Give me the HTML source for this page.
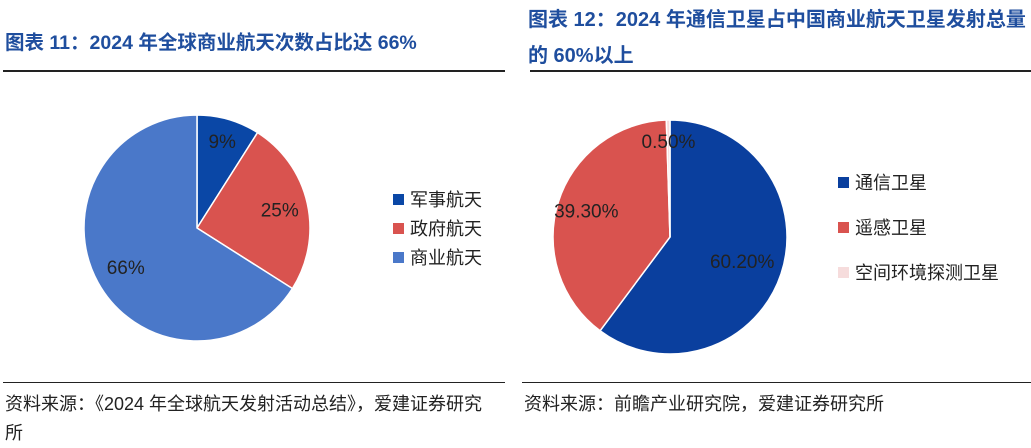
<!DOCTYPE html>
<html><head><meta charset="utf-8">
<style>
body{margin:0;width:1031px;height:442px;background:#fff;overflow:hidden;font-family:"Liberation Sans","Noto Sans CJK SC",sans-serif;position:relative}
.t{position:absolute;color:#1f4e9e;font-weight:bold;font-size:19.5px;white-space:nowrap}
.ln{position:absolute;height:2px;background:#222}
.fn{position:absolute;font-size:18px;color:#222;white-space:nowrap}
svg{position:absolute;left:0;top:0}
</style></head><body>
<div class="t" style="left:5px;top:26px">图表 11：2024 年全球商业航天次数占比达 66%</div>
<div class="t" style="left:528px;top:2px;line-height:36px;font-size:20px">图表 12：2024 年通信卫星占中国商业航天卫星发射总量<br>的 60%以上</div>
<div class="ln" style="left:3px;top:70px;width:502px"></div>
<div class="ln" style="left:530px;top:70px;width:501px"></div>
<div class="ln" style="left:3px;top:382px;width:502px;height:1px"></div>
<div class="ln" style="left:522px;top:382px;width:509px;height:1px"></div>
<div class="fn" style="left:5px;top:390px;line-height:29px">资料来源：《2024 年全球航天发射活动总结》，爱建证券研究<br>所</div>
<div class="fn" style="left:524px;top:390px;line-height:29px">资料来源：前瞻产业研究院，爱建证券研究所</div>
<svg id="s" width="1031" height="442" font-family="Liberation Sans, Noto Sans CJK SC, sans-serif"></svg>
<script>
const cats1=["军事航天","政府航天","商业航天"];
const vals1=[9,25,66];
const labs1=["9%","25%","66%"];
const cats2=["通信卫星","遥感卫星","空间环境探测卫星"];
const vals2=[60.2,39.3,0.5];
const labs2=["60.20%","39.30%","0.50%"];
const cols1=["#0a47a6","#d9534f","#4a78c9"];
const cols2=["#0a3f9e","#d9534f","#f6dcdc"];
const NS="http://www.w3.org/2000/svg";
const svg=document.getElementById('s');
function mk(t,a){const e=document.createElementNS(NS,t);for(const k in a)e.setAttribute(k,a[k]);svg.appendChild(e);return e;}
function pie(cx,cy,r,vals,labs,cols,cats,lx,ly,ldy,lf,nm){
 const tot=vals.reduce((a,b)=>a+b,0);let a0=0;
 vals.forEach((v,i)=>{
  const a1=a0+v/tot*2*Math.PI;
  const p=(a)=>[cx+r*Math.sin(a),cy-r*Math.cos(a)];
  const [x0,y0]=p(a0),[x1,y1]=p(a1);
  const el=mk('path',{d:`M${cx},${cy}L${x0},${y0}A${r},${r} 0 ${a1-a0>Math.PI?1:0} 1 ${x1},${y1}Z`,fill:cols[i],stroke:'#fff','stroke-width':1.5});
  
  
  const am=(a0+a1)/2,rf=lf[i];
  const t=mk('text',{x:cx+r*rf*Math.sin(am),y:cy-r*rf*Math.cos(am)+7,'text-anchor':'middle','font-size':19,fill:'#222'});
  t.textContent=labs[i];
  
  
  const sq=mk('rect',{x:lx,y:ly+i*ldy-6,width:11,height:11,fill:cols[i]});
  
  
  const lt=mk('text',{x:lx+17,y:ly+i*ldy+6,'font-size':18,fill:'#222'});
  lt.textContent=cats[i];
  
  
  a0=a1;
 });
}
pie(197,228,113,vals1,labs1,cols1,cats1,393,200,29,[0.8,0.75,0.72],'pie1');
pie(670,237,117,vals2,labs2,cols2,cats2,838,183,45,[0.65,0.75,0.82],'pie2');
</script>
</body></html>
